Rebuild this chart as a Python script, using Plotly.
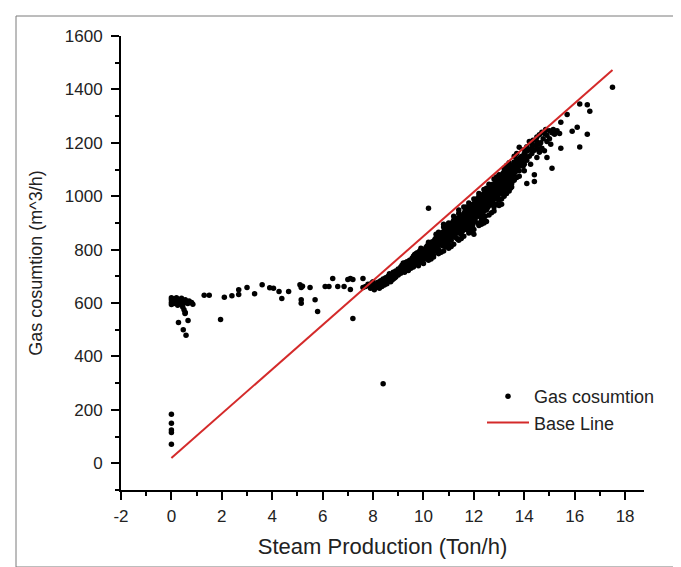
import plotly.graph_objects as go

# ---- data ----
# cluster near zero steam production
low_pts = [(0.0, 602), (0.0, 612), (0.0, 595), (0.0, 620), (0.05, 605), (0.1, 598), (0.1, 615),
           (0.15, 608), (0.2, 600), (0.2, 620), (0.25, 592), (0.3, 610), (0.35, 603), (0.4, 618),
           (0.4, 596), (0.45, 607), (0.5, 600), (0.55, 612), (0.6, 605), (0.65, 598), (0.7, 608),
           (0.8, 602), (0.85, 596), (0.45, 585), (0.5, 575), (0.55, 565),
           (0.28, 527), (0.66, 535), (0.47, 500), (0.58, 479), (0.54, 561),
           (0.0, 184), (0.0, 150), (0.0, 125), (0.0, 115), (0.0, 71)]

# plateau between 1 and 8 t/h
plateau_pts = [(1.3, 629), (1.5, 629), (1.95, 538), (2.1, 622), (2.4, 627), (2.67, 650), (2.67, 632),
               (3.0, 658), (3.3, 635), (3.6, 669), (3.9, 657), (4.05, 655), (4.27, 643), (4.38, 617),
               (4.65, 643), (5.1, 669), (5.15, 658), (5.2, 663), (5.15, 612), (5.15, 599), (5.5, 658),
               (5.7, 612), (5.8, 568), (6.1, 662), (6.25, 662), (6.4, 692), (6.6, 662), (6.85, 662),
               (7.0, 688), (7.1, 692), (7.2, 542), (7.1, 651), (7.6, 658), (7.2, 688), (7.6, 692),
               (7.7, 662), (7.8, 670)]

band_8_9 = [(7.85, 668), (7.9, 655), (7.95, 675), (8.0, 662), (8.0, 680), (8.05, 650), (8.1, 670),
            (8.15, 660), (8.2, 678), (8.2, 665), (8.25, 655), (8.3, 684), (8.3, 670), (8.35, 662),
            (8.4, 690), (8.4, 676), (8.45, 668), (8.5, 695), (8.5, 682),
            (8.55, 672), (8.6, 700), (8.6, 688), (8.65, 710), (8.7, 695), (8.7, 680), (8.75, 702),
            (8.8, 715), (8.8, 690), (8.85, 705), (8.9, 720), (8.9, 698), (8.95, 712), (9.0, 728),
            (9.0, 705), (8.75, 686), (8.85, 694)]

band_9_10 = [(9.05, 718), (9.1, 735), (9.1, 712), (9.15, 742), (9.15, 725), (9.2, 730), (9.2, 750),
             (9.25, 715), (9.25, 738), (9.3, 745), (9.3, 728), (9.35, 755), (9.35, 735), (9.4, 742),
             (9.4, 722), (9.45, 760), (9.45, 748), (9.5, 738), (9.5, 755), (9.5, 730), (9.2, 740),
             (9.3, 752),
             (9.55, 745), (9.55, 768), (9.6, 758), (9.6, 775), (9.6, 740), (9.65, 765), (9.65, 782),
             (9.7, 752), (9.7, 770), (9.75, 788), (9.75, 760), (9.8, 775), (9.8, 748), (9.85, 795),
             (9.85, 768), (9.9, 780), (9.9, 760), (9.95, 790), (9.95, 772), (10.0, 800), (10.0, 782),
             (10.0, 762), (9.7, 785), (9.9, 805)]

band_10_11 = [(10.05, 790), (10.05, 770), (10.1, 808), (10.1, 785), (10.15, 798), (10.15, 815),
              (10.15, 775), (10.2, 805), (10.2, 790), (10.25, 822), (10.25, 800), (10.25, 780),
              (10.3, 812), (10.3, 795), (10.35, 830), (10.35, 808), (10.35, 788), (10.4, 820),
              (10.4, 800), (10.45, 838), (10.45, 815), (10.45, 795), (10.5, 825), (10.5, 808),
              (10.5, 845), (10.2, 828), (10.4, 780),
              (10.55, 830), (10.55, 812), (10.55, 850), (10.6, 822), (10.6, 840), (10.6, 800),
              (10.65, 835), (10.65, 855), (10.65, 818), (10.7, 845), (10.7, 828), (10.7, 862),
              (10.75, 838), (10.75, 815), (10.75, 852), (10.8, 845), (10.8, 868), (10.8, 828),
              (10.85, 858), (10.85, 838), (10.85, 812), (10.9, 850), (10.9, 872), (10.9, 832),
              (10.95, 862), (10.95, 845), (10.95, 880), (11.0, 855), (11.0, 838), (11.0, 875),
              (11.0, 820), (10.8, 885), (10.9, 815)]

band_11_12 = [(11.05, 865), (11.05, 848), (11.05, 885), (11.1, 872), (11.1, 855), (11.1, 895),
              (11.1, 835), (11.15, 880), (11.15, 862), (11.15, 902), (11.2, 870), (11.2, 888),
              (11.2, 848), (11.25, 895), (11.25, 878), (11.25, 858), (11.3, 885), (11.3, 905),
              (11.3, 868), (11.3, 845), (11.35, 892), (11.35, 875), (11.35, 915), (11.4, 900),
              (11.4, 882), (11.4, 862), (11.45, 910), (11.45, 892), (11.45, 925), (11.5, 898),
              (11.5, 880), (11.5, 918), (11.5, 858), (11.2, 910), (11.4, 935), (11.35, 840),
              (11.55, 905), (11.55, 888), (11.55, 925), (11.55, 870), (11.6, 915), (11.6, 898),
              (11.6, 935), (11.6, 878), (11.65, 908), (11.65, 945), (11.65, 890), (11.7, 920),
              (11.7, 900), (11.7, 940), (11.7, 875), (11.75, 930), (11.75, 912), (11.75, 955),
              (11.75, 890), (11.8, 925), (11.8, 945), (11.8, 905), (11.8, 882), (11.85, 935),
              (11.85, 918), (11.85, 960), (11.85, 898), (11.9, 945), (11.9, 928), (11.9, 910),
              (11.9, 968), (11.95, 938), (11.95, 955), (11.95, 915), (11.95, 890), (12.0, 948),
              (12.0, 930), (12.0, 972), (12.0, 905), (12.0, 858), (11.7, 960), (11.9, 875)]

band_12_13 = [(12.05, 955), (12.05, 938), (12.05, 980), (12.05, 915), (12.1, 948), (12.1, 965),
              (12.1, 925), (12.1, 990), (12.15, 958), (12.15, 940), (12.15, 975), (12.15, 900),
              (12.2, 962), (12.2, 945), (12.2, 985), (12.2, 925), (12.25, 970), (12.25, 952),
              (12.25, 995), (12.25, 930), (12.3, 962), (12.3, 980), (12.3, 942), (12.3, 1005),
              (12.3, 912), (12.35, 975), (12.35, 958), (12.35, 995), (12.35, 935), (12.4, 985),
              (12.4, 968), (12.4, 1010), (12.4, 945), (12.45, 978), (12.45, 998), (12.45, 955),
              (12.45, 925), (12.5, 990), (12.5, 972), (12.5, 1015), (12.5, 948), (12.5, 905),
              (12.2, 1000), (12.4, 920),
              (12.55, 995), (12.55, 980), (12.55, 1020), (12.55, 958), (12.6, 1005), (12.6, 988),
              (12.6, 1028), (12.6, 965), (12.65, 998), (12.65, 1015), (12.65, 975), (12.65, 1040),
              (12.7, 1010), (12.7, 992), (12.7, 1032), (12.7, 968), (12.75, 1020), (12.75, 1002),
              (12.75, 1045), (12.75, 980), (12.8, 1015), (12.8, 1035), (12.8, 995), (12.8, 960),
              (12.85, 1025), (12.85, 1008), (12.85, 1050), (12.9, 1030), (12.9, 1012), (12.9, 990),
              (12.9, 1058), (12.95, 1040), (12.95, 1020), (12.95, 1000), (13.0, 1035), (13.0, 1052),
              (13.0, 1015), (13.0, 985), (12.9, 970), (13.1, 970)]

band_13_14 = [(13.05, 1045), (13.05, 1028), (13.05, 1068), (13.1, 1050), (13.1, 1032), (13.1, 1075),
              (13.1, 1010), (13.15, 1058), (13.15, 1040), (13.15, 1085), (13.2, 1062), (13.2, 1045),
              (13.2, 1022), (13.2, 1092), (13.25, 1070), (13.25, 1052), (13.25, 1030), (13.3, 1078),
              (13.3, 1060), (13.3, 1100), (13.3, 1038), (13.35, 1085), (13.35, 1068), (13.35, 1045),
              (13.4, 1092), (13.4, 1075), (13.4, 1110), (13.4, 1050), (13.45, 1082), (13.45, 1100),
              (13.45, 1060), (13.5, 1090), (13.5, 1072), (13.5, 1115), (13.5, 1048), (13.3, 1010),
              (13.45, 1030),
              (13.55, 1098), (13.55, 1080), (13.6, 1105), (13.6, 1085), (13.6, 1128), (13.65, 1112),
              (13.65, 1092), (13.7, 1118), (13.7, 1100), (13.7, 1140), (13.75, 1108), (13.75, 1128),
              (13.8, 1135), (13.8, 1115), (13.8, 1095), (13.85, 1145), (13.85, 1122), (13.9, 1130),
              (13.9, 1150), (13.95, 1138), (13.95, 1112), (14.0, 1142), (14.0, 1160), (14.0, 1120),
              (13.8, 1183), (13.7, 1070), (14.1, 1048)]

band_14_up = [(14.05, 1150), (14.1, 1168), (14.1, 1135), (14.2, 1175), (14.2, 1205), (14.2, 1150),
              (14.3, 1180), (14.3, 1160), (14.35, 1210), (14.4, 1172), (14.4, 1055), (14.4, 1080),
              (14.45, 1190), (14.5, 1205), (14.5, 1145), (14.55, 1178), (14.6, 1230), (14.6, 1165),
              (14.65, 1200), (14.7, 1240), (14.7, 1180), (14.75, 1215), (14.8, 1235), (14.8, 1170),
              (14.85, 1250), (14.9, 1228), (14.9, 1145), (15.0, 1245), (15.0, 1215), (15.1, 1238),
              (15.1, 1105), (15.15, 1250), (15.2, 1232), (15.3, 1245), (15.45, 1277), (15.45, 1180),
              (15.4, 1235), (15.7, 1306), (15.9, 1243), (16.1, 1258), (16.2, 1345), (16.5, 1343),
              (16.6, 1318), (16.5, 1232), (16.2, 1184), (17.5, 1408)]

# edges of the dense band (lower and upper spread)
band_edges = [(9.6, 735), (9.8, 740), (10.0, 748), (10.2, 760), (10.4, 772), (10.6, 785),
              (10.8, 795), (11.0, 805), (11.2, 820), (11.4, 835), (11.6, 850), (11.8, 862),
              (12.0, 875), (12.2, 890), (12.4, 900), (12.6, 930), (12.8, 945), (13.0, 965),
              (10.6, 865), (10.8, 895), (11.0, 900), (11.2, 925), (11.4, 948), (11.6, 960),
              (11.8, 975), (12.0, 990), (12.2, 1010), (12.4, 1025), (12.6, 1045), (12.8, 1065),
              (13.0, 1080), (13.2, 1105), (13.4, 1125), (13.6, 1150), (13.2, 1000), (13.4, 1020),
              (13.6, 1060), (13.8, 1075), (14.0, 1095), (10.3, 765), (10.7, 790), (11.1, 812),
              (11.5, 842), (11.9, 868), (12.3, 895), (12.7, 938), (13.1, 990), (13.5, 1035),
              (10.5, 858), (10.9, 888), (11.3, 918), (11.7, 950), (12.1, 982), (12.5, 1030),
              (12.9, 1072), (13.3, 1115), (13.7, 1160), (14.1, 1185), (14.3, 1195), (14.5, 1222),
              (14.0, 1175), (14.25, 1120), (14.6, 1195), (14.9, 1205), (15.05, 1195)]

outlier_pts = [(10.2, 955), (8.4, 298)]

base_x = [0, 17.5]
base_y = [20, 1473]

x_ticks = [-2, 0, 2, 4, 6, 8, 10, 12, 14, 16, 18]
x_tick_text = ["-2", "0", "2", "4", "6", "8", "10", "12", "14", "16", "18"]
y_ticks = [0, 200, 400, 600, 800, 1000, 1200, 1400, 1600]

all_pts = (low_pts + plateau_pts + band_8_9 + band_9_10 + band_10_11 + band_11_12
           + band_12_13 + band_13_14 + band_14_up + band_edges + outlier_pts)
sx = [p[0] for p in all_pts]
sy = [p[1] for p in all_pts]

FONT = "Liberation Sans, Arial, sans-serif"

fig = go.Figure()
fig.add_trace(go.Scatter(x=sx, y=sy, mode="markers", name="Gas cosumtion",
                         marker=dict(color="black", size=5.5, line=dict(width=0))))
fig.add_trace(go.Scatter(x=base_x, y=base_y, mode="lines", name="Base Line",
                         line=dict(color="#d42a2a", width=2)))

W, H = 681, 567
L, R, T, B = 113, 45, 28, 85
pw, ph = W - L - R, H - T - B

def px_to_paper(px, py):
    return (px - L) / pw, (H - B - py) / ph

fx0, fy1 = px_to_paper(8, 8)
fx1, fy0 = px_to_paper(675, 559)
fig.add_shape(type="rect", xref="paper", yref="paper", x0=fx0, x1=fx1, y0=fy0, y1=fy1,
              line=dict(color="#7a7a7a", width=1), layer="below")

lx, ly = px_to_paper(474, 370)

axis_common = dict(showline=True, linecolor="black", linewidth=2, ticks="outside",
                   ticklen=8, tickwidth=2, tickcolor="black", showgrid=False, zeroline=False,
                   automargin=False,
                   tickfont=dict(family=FONT, size=17, color="#222"))

fig.update_layout(
    width=W, height=H,
    margin=dict(l=L, r=R, t=T, b=B),
    paper_bgcolor="white", plot_bgcolor="white",
    font=dict(family=FONT, color="#222"),
    showlegend=True,
    legend=dict(x=lx, y=ly, xanchor="left", yanchor="top", bgcolor="rgba(0,0,0,0)",
                font=dict(family=FONT, size=18, color="#222"), tracegroupgap=0,
                itemwidth=42),
    xaxis=dict(range=[-2, 18.75], tickvals=x_ticks, ticktext=x_tick_text,
               ticklabelstandoff=2,
               minor=dict(dtick=1, tick0=-2, ticks="outside", ticklen=4, tickwidth=2, tickcolor="black"),
               title=dict(text="Steam Production (Ton/h)", font=dict(family=FONT, size=22, color="#222"),
                          standoff=13),
               **axis_common),
    yaxis=dict(range=[-100, 1600], tickvals=y_ticks,
               ticklabelstandoff=5,
               minor=dict(dtick=100, tick0=0, ticks="outside", ticklen=4, tickwidth=2, tickcolor="black"),
               title=dict(text="Gas cosumtion (m^3/h)", font=dict(family=FONT, size=18, color="#222"),
                          standoff=17),
               **axis_common),
)

fig.write_html("out.html")
